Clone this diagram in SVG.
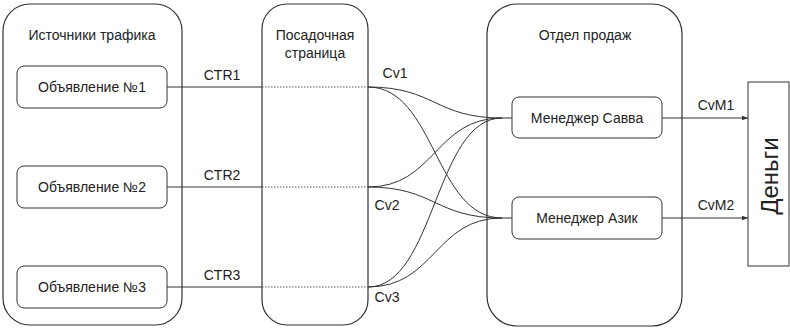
<svg xmlns="http://www.w3.org/2000/svg" width="790" height="329" viewBox="0 0 790 329">
<defs>
<style>
.c{fill:#fff;stroke:#333;stroke-width:1.2}
.b{fill:#fff;stroke:#333;stroke-width:1}
.t{font-family:"Liberation Sans",Arial,sans-serif;font-size:14px;fill:#222;text-anchor:middle}
.l{fill:none;stroke:#333;stroke-width:1}
.d{fill:none;stroke:#555;stroke-width:1;stroke-dasharray:1.5 1.5}
</style>
<marker id="ar" markerWidth="6" markerHeight="6" refX="6" refY="3" orient="auto" markerUnits="userSpaceOnUse">
<path d="M0,0.8 L6,3 L0,5.2 Z" fill="#333"/>
</marker>
</defs>
<rect width="790" height="329" fill="#fff"/>
<g id="sources">
<rect class="c" x="3" y="4" width="179" height="321" rx="27"/>
<text class="t" x="92" y="40">Источники трафика</text>
</g>
<g id="landing">
<rect class="c" x="262" y="4" width="106" height="321" rx="25"/>
<text class="t" x="315" y="40">Посадочная</text>
<text class="t" x="315" y="58">страница</text>
</g>
<g id="sales">
<rect class="c" x="487" y="4" width="195" height="322" rx="30"/>
<text class="t" x="585" y="40">Отдел продаж</text>
</g>
<g id="ad1">
<rect class="b" x="17" y="66" width="150" height="42" rx="7"/>
<text class="t" x="92" y="92">Объявление №1</text>
</g>
<g id="ad2">
<rect class="b" x="17" y="166" width="150" height="42" rx="7"/>
<text class="t" x="92" y="192">Объявление №2</text>
</g>
<g id="ad3">
<rect class="b" x="17" y="266" width="150" height="42" rx="7"/>
<text class="t" x="92" y="292">Объявление №3</text>
</g>
<g id="savva">
<rect class="b" x="512" y="97" width="150" height="41" rx="7"/>
<text class="t" x="587" y="123">Менеджер Савва</text>
</g>
<g id="azik">
<rect class="b" x="512" y="197" width="150" height="42" rx="7"/>
<text class="t" x="587" y="223">Менеджер Азик</text>
</g>
<g id="money">
<rect class="b" x="748" y="82" width="41" height="184"/>
<text class="t" style="font-size:24px" transform="translate(778,176) rotate(-90)">Деньги</text>
</g>
<g id="connectors">
<path class="l" d="M167,87 H262 M167,187 H262 M167,287 H262"/>
<path class="d" d="M262,87 H368 M262,187 H368 M262,287 H368"/>
<path class="l" d="M368,87 C435,87 435,118 502,118 H512"/>
<path class="l" d="M368,87 C435,87 435,218 502,218 H512"/>
<path class="l" d="M368,187 C435,187 435,118 502,118"/>
<path class="l" d="M368,187 C435,187 435,218 502,218"/>
<path class="l" d="M368,287 C435,287 435,118 502,118"/>
<path class="l" d="M368,287 C435,287 435,218 502,218"/>
<path class="l" d="M662,118 H748" marker-end="url(#ar)"/>
<path class="l" d="M662,218 H748" marker-end="url(#ar)"/>
<text class="t" x="222" y="80">CTR1</text>
<text class="t" x="222" y="180">CTR2</text>
<text class="t" x="222" y="280">CTR3</text>
<text class="t" x="395" y="78">Cv1</text>
<text class="t" x="387" y="210">Cv2</text>
<text class="t" x="387" y="302">Cv3</text>
<text class="t" x="716" y="110">CvM1</text>
<text class="t" x="716" y="210">CvM2</text>
</g>
</svg>
